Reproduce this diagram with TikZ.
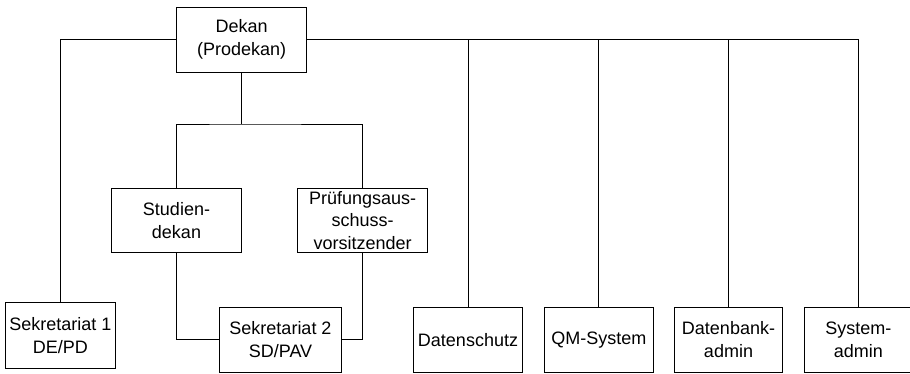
\documentclass[tikz,border=0pt]{standalone}
\usepackage{fontspec}
\setmainfont{Liberation Sans}
\begin{document}
\begin{tikzpicture}[x=1pt,y=-1pt,
  box/.style={draw, line width=0.8pt, inner sep=0pt, align=center,
    font=\fontsize{18}{22.5}\selectfont, minimum height=65},
  conn/.style={draw, line width=0.8pt}]
\useasboundingbox (0,0) rectangle (910,373);
\node[box, minimum width=130] (dekan) at (241.6,39.5) {Dekan\\(Prodekan)};
\node[box, minimum width=129.6, minimum height=64.4] (studien) at (176.5,220.5) {Studien-\\dekan};
\node[box, minimum width=130, minimum height=64.4] (pruef) at (362.7,220.5) {Prüfungsaus-\\schuss-\\vorsitzender};
\node[box, minimum width=109.3, minimum height=65.6] (sek1) at (60.3,335.5) {Sekretariat 1\\DE/PD};
\node[box, minimum width=122.4] (sek2) at (280.5,339.7) {Sekretariat 2\\SD/PAV};
\node[box, minimum width=109] (daten) at (468,339.7) {Datenschutz};
\node[box, minimum width=109] (qm) at (598.8,339.7) {QM-System};
\node[box, minimum width=108.4] (dbadmin) at (728.5,339.7) {Datenbank-\\admin};
\node[box, minimum width=108] (sysadmin) at (858.3,339.7) {System-\\admin};
\coordinate (bar) at (241.6,124);
\draw[conn] (dekan.west) -| (sek1.north);
\draw[conn] (dekan.east) -| (sysadmin.north);
\draw[conn] (daten.north) -- (daten.north |- dekan.east);
\draw[conn] (qm.north) -- (qm.north |- dekan.east);
\draw[conn] (dbadmin.north) -- (dbadmin.north |- dekan.east);
\draw[conn] (dekan.south) -- (bar);
\draw[conn] (studien.north) |- (bar) -| (pruef.north);
\draw[conn] (studien.south) |- (sek2.west);
\draw[conn] (pruef.south) |- (sek2.east);
\end{tikzpicture}
\end{document}
